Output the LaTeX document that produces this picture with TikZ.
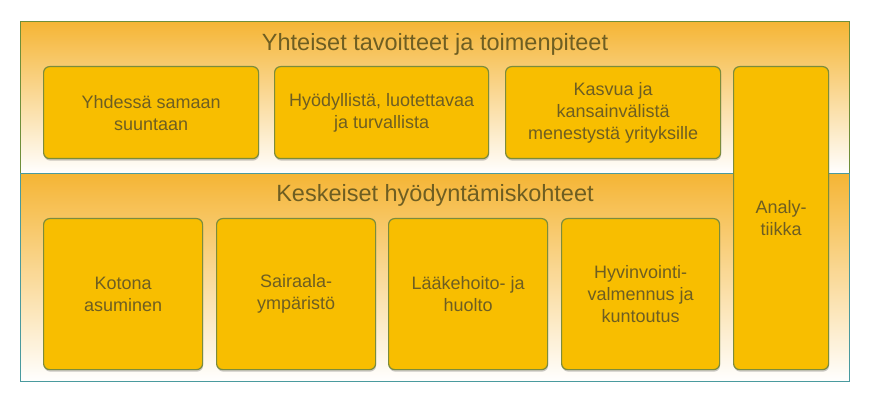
\documentclass[tikz,border=0pt]{standalone}
\usepackage{fontspec}
\setmainfont{Liberation Sans}
\usetikzlibrary{shadows}
\definecolor{boxfill}{HTML}{F8BE00}
\definecolor{boxline}{HTML}{7C8C3C}
\definecolor{txt}{HTML}{6E5E22}
\definecolor{bandtop}{HTML}{F5B535}
\definecolor{bandlineA}{HTML}{6F8F3A}
\definecolor{bandlineB}{HTML}{4A9A9E}
\tikzset{
 card/.style={draw=boxline, line width=1.2pt, fill=boxfill, rounded corners=6pt,
   align=center, text=txt, font=\fontsize{18}{22}\selectfont, inner sep=0pt,
   anchor=north west,
   drop shadow={shadow xshift=0.5pt, shadow yshift=-2pt, opacity=0.3, fill=black!70}},
 band/.style={top color=bandtop, bottom color=white, inner sep=0pt, anchor=north west, line width=1.2pt},
 bandtitle/.style={text=txt, font=\fontsize{23.5}{26}\selectfont, inner sep=0pt}
}
\begin{document}
\begin{tikzpicture}[x=1pt,y=-1pt]
\useasboundingbox (0,0) rectangle (872,403);
% bands
\node[band, draw=bandlineA, minimum width=829pt, minimum height=152pt] (topband) at (20,21) {};
\node[band, draw=bandlineB, minimum width=829pt, minimum height=208pt] (lowband) at (20,173) {};
\node[bandtitle] (ttop) at (435,44) {Yhteiset tavoitteet ja toimenpiteet};
\node[bandtitle] (tlow) at (435,195) {Keskeiset hyödyntämiskohteet};
% top cards
\node[card, minimum width=215pt, minimum height=92pt] (c1) at (43,66) {Yhdessä samaan\\suuntaan};
\node[card, minimum width=214pt, minimum height=92pt] (c2) at (274,66) {Hyödyllistä, luotettavaa\\ja turvallista};
\node[card, minimum width=215pt, minimum height=92pt] (c3) at (505,66) {Kasvua ja\\kansainvälistä\\menestystä yrityksille};
% analytics
\node[card, minimum width=95pt, minimum height=303pt] (an) at (733,66) {Analy-\\tiikka};
% bottom cards
\node[card, minimum width=159pt, minimum height=151pt] (d1) at (43,218) {Kotona\\asuminen};
\node[card, minimum width=159pt, minimum height=151pt] (d2) at (216,218) {Sairaala-\\ympäristö};
\node[card, minimum width=159pt, minimum height=151pt] (d3) at (388,218) {Lääkehoito- ja\\huolto};
\node[card, minimum width=158pt, minimum height=151pt] (d4) at (561,218) {Hyvinvointi-\\valmennus ja\\kuntoutus};
\end{tikzpicture}
\end{document}
